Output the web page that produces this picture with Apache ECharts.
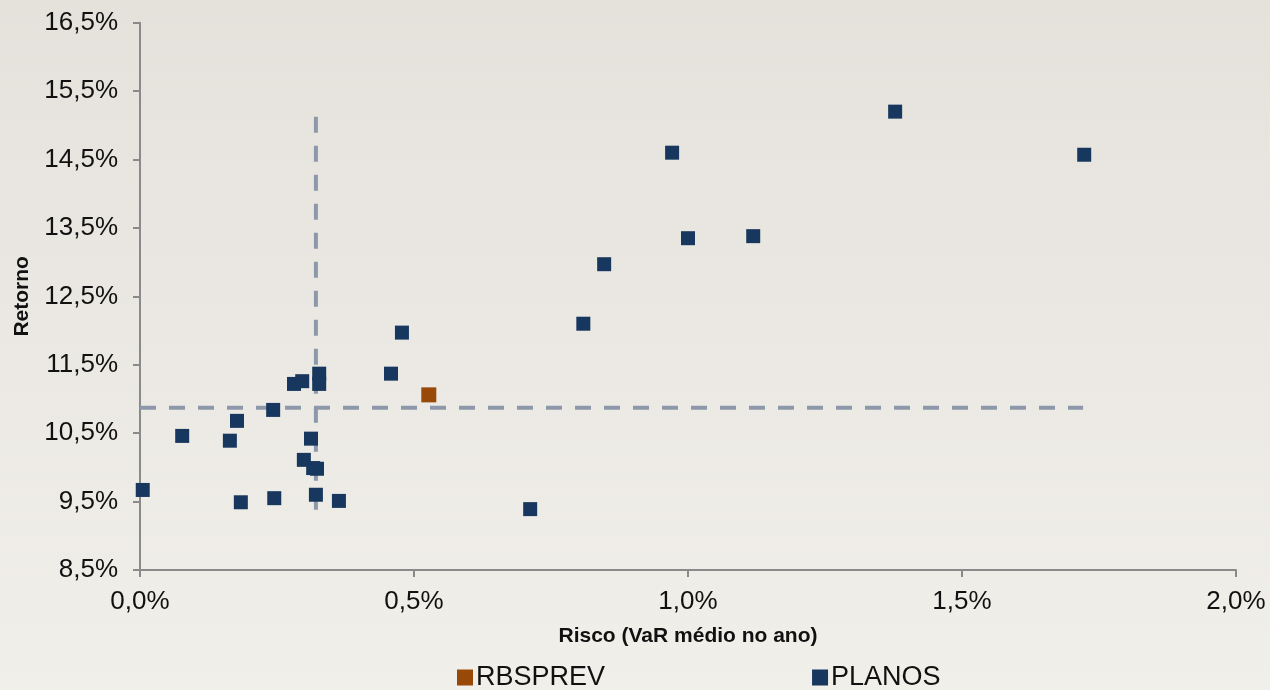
<!DOCTYPE html>
<html>
<head>
<meta charset="utf-8">
<script src="https://cdn.jsdelivr.net/npm/echarts@6/dist/echarts.min.js"></script>
<style>
html,body{margin:0;padding:0;}
#chart{width:1270px;height:690px;}
</style>
</head>
<body>
<div id="chart"></div>
<script>
// Data (values in %)
const planosRisk   = [0.005, 0.077, 0.164, 0.177, 0.184, 0.243, 0.245, 0.281, 0.296, 0.327, 0.327, 0.312, 0.299, 0.316, 0.323, 0.321, 0.363, 0.458, 0.478, 0.712, 0.809, 0.847, 0.971, 1.000, 1.119, 1.378, 1.723];
const planosReturn = [9.67, 10.46, 10.39, 10.68, 9.49, 10.84, 9.55, 11.22, 11.26, 11.37, 11.22, 10.42, 10.11, 9.99, 9.98, 9.60, 9.51, 11.37, 11.97, 9.39, 12.10, 12.97, 14.60, 13.35, 13.38, 15.20, 14.57];
const rbsprevRisk   = [0.527];
const rbsprevReturn = [11.06];
// Reference (average) lines
const avgRisk = 0.321;
const avgRiskReturnRange = [9.38, 15.15];
const avgReturn = 10.87;
const avgReturnRiskRange = [0, 1.721];
// Tick labels
const xTicks = [0, 0.5, 1.0, 1.5, 2.0];
const yTicks = [8.5, 9.5, 10.5, 11.5, 12.5, 13.5, 14.5, 15.5, 16.5];
const seriesNames = ['RBSPREV', 'PLANOS'];

const fmt = v => v.toFixed(1).replace('.', ',') + '%';
const zip = (a, b) => a.map((v, i) => [v, b[i]]);

const FONT = '"Liberation Sans", Arial, sans-serif';
const axisColor = '#8a8a8a';
const dashColor = '#8d99aa';

const chart = echarts.init(document.getElementById('chart'));
chart.setOption({
  backgroundColor: {
    type: 'linear', x: 0, y: 0, x2: 0, y2: 1,
    colorStops: [{offset: 0, color: '#e5e2dc'}, {offset: 1, color: '#f1efea'}]
  },
  animation: false,
  grid: {left: 140, right: 34, top: 22.7, bottom: 120, containLabel: false, outerBoundsMode: 'none'},
  legend: {
    data: seriesNames,
    left: 457, top: 664, padding: 0,
    itemWidth: 16, itemHeight: 16, itemGap: 207,
    icon: 'rect',
    itemStyle: {opacity: 1},
    textStyle: {fontFamily: FONT, fontSize: 27, color: '#111', padding: [0, 0, 0, -2]}
  },
  xAxis: {
    type: 'value', min: 0, max: 2, interval: 0.5,
    name: 'Risco (VaR médio no ano)',
    nameLocation: 'middle', nameGap: 56,
    nameTextStyle: {fontFamily: FONT, fontSize: 21, fontWeight: 'bold', color: '#111', verticalAlign: 'top'},
    axisLine: {show: true, lineStyle: {color: axisColor, width: 2}},
    axisTick: {show: true, length: 7, lineStyle: {color: axisColor, width: 2}, customValues: xTicks},
    axisLabel: {fontFamily: FONT, fontSize: 26, color: '#111', margin: 19, formatter: fmt, customValues: xTicks},
    splitLine: {show: false}
  },
  yAxis: {
    type: 'value', min: 8.5, max: 16.5,
    name: 'Retorno',
    nameLocation: 'middle', nameGap: 107, nameRotate: 90,
    nameTextStyle: {fontFamily: FONT, fontSize: 21, fontWeight: 'bold', color: '#111'},
    axisLine: {show: true, lineStyle: {color: axisColor, width: 2}},
    axisTick: {show: true, length: 7, lineStyle: {color: axisColor, width: 2}, customValues: yTicks},
    axisLabel: {fontFamily: FONT, fontSize: 26, color: '#111', margin: 22, formatter: fmt, customValues: yTicks},
    splitLine: {show: false}
  },
  series: [
    {
      type: 'line', name: 'avgRisk', silent: true, symbol: 'none', z: 1,
      data: [[avgRisk, avgRiskReturnRange[0]], [avgRisk, avgRiskReturnRange[1]]],
      lineStyle: {color: dashColor, width: 4, type: [16, 13]}
    },
    {
      type: 'line', name: 'avgReturn', silent: true, symbol: 'none', z: 1,
      data: [[avgReturnRiskRange[0], avgReturn], [avgReturnRiskRange[1], avgReturn]],
      lineStyle: {color: dashColor, width: 4, type: [16, 13]}
    },
    {
      type: 'scatter', name: 'RBSPREV', symbol: 'rect', symbolSize: 15, z: 3,
      itemStyle: {color: '#984807', opacity: 1},
      data: zip(rbsprevRisk, rbsprevReturn)
    },
    {
      type: 'scatter', name: 'PLANOS', symbol: 'rect', symbolSize: 14, z: 3,
      itemStyle: {color: '#17375e', opacity: 1},
      data: zip(planosRisk, planosReturn)
    }
  ]
});
</script>
</body>
</html>
